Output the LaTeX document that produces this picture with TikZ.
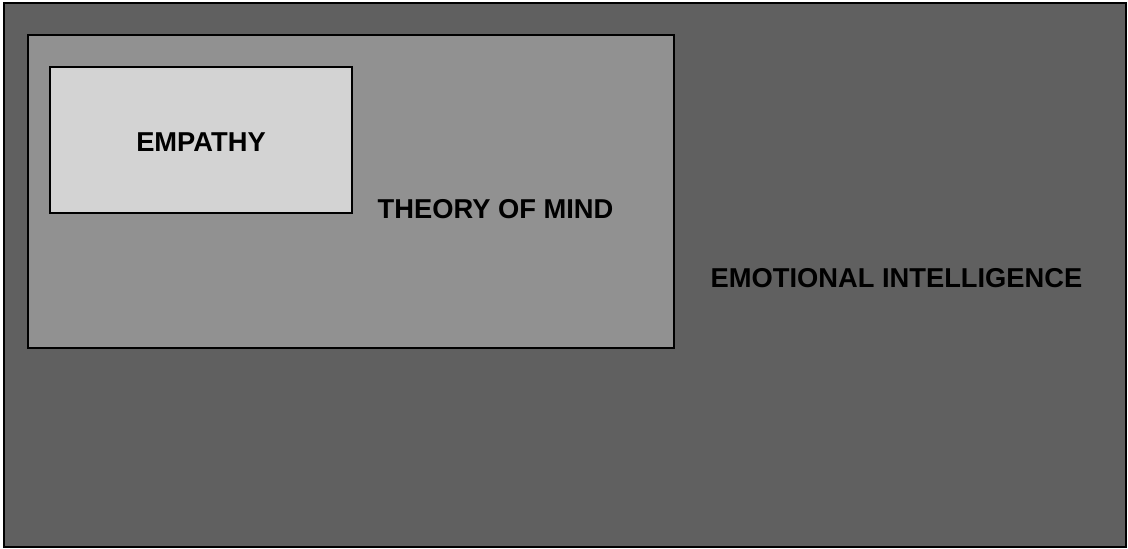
\documentclass[tikz,border=0pt]{standalone}
\usepackage{fontspec}
\setmainfont{Liberation Sans}
\begin{document}
\begin{tikzpicture}[x=1pt,y=-1pt,
  box/.style={draw=black,line width=2pt,inner sep=0pt,outer sep=0pt},
  lbl/.style={font=\fontsize{27.3}{31}\selectfont\bfseries,inner sep=0pt,anchor=base,text=black}]
\useasboundingbox (0,0) rectangle (1128,549);
\fill[white] (0,0) rectangle (1128,549);
\node[box,fill={rgb,255:red,96;green,96;blue,96},minimum width=1122pt,minimum height=544pt] (ei) at (565,275) {};
\node[box,fill={rgb,255:red,145;green,145;blue,145},minimum width=646pt,minimum height=313pt] (tom) at (351,191.5) {};
\node[box,fill={rgb,255:red,211;green,211;blue,211},minimum width=302pt,minimum height=146pt] (emp) at (201,140) {};
\node[lbl] (empl) at (201,151.5) {EMPATHY};
\node[lbl] (toml) at (495.5,218) {THEORY OF MIND};
\node[lbl] (eil) at (896.5,287) {EMOTIONAL INTELLIGENCE};
\end{tikzpicture}
\end{document}
